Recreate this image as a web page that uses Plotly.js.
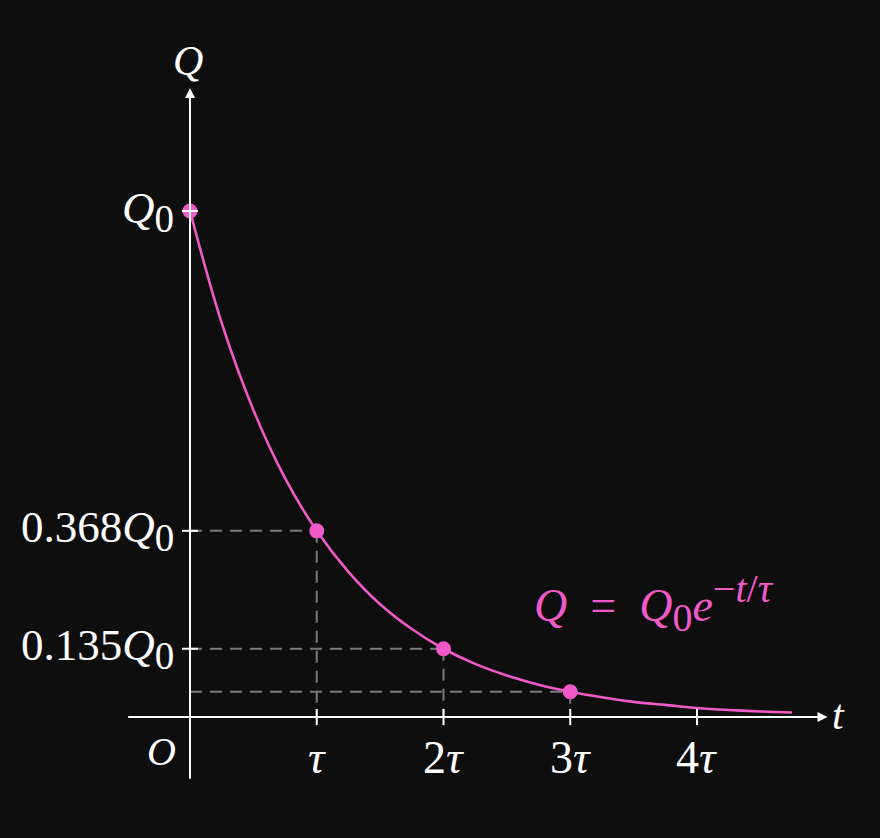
<!DOCTYPE html>
<html>
<head>
<meta charset="utf-8">
<script src="https://cdn.plot.ly/plotly-3.0.1.min.js"></script>
<style>html,body{margin:0;padding:0;background:#0e0e0e;}</style>
</head>
<body>
<div id="chart" style="width:880px;height:838px;"></div>
<script>
// ---- data (t in units of tau, Q in units of Q0) ----
const curveT = [0, 0.25, 0.5, 0.75, 1, 1.25, 1.5, 1.75, 2, 2.25, 2.5, 2.75, 3, 3.25, 3.5, 3.75, 4, 4.25, 4.5, 4.75];
const curveQ = [1, 0.779, 0.607, 0.472, 0.368, 0.287, 0.223, 0.174, 0.135, 0.105, 0.082, 0.064, 0.050, 0.039, 0.030, 0.024, 0.018, 0.014, 0.011, 0.009];
const markT = [0, 1, 2, 3];
const markQ = [1, 0.368, 0.135, 0.050];
const xTickVals = [1, 2, 3, 4];
const xTickText = ['<i>τ</i>', '2<i>τ</i>', '3<i>τ</i>', '4<i>τ</i>'];
const yTickVals = [1, 0.368, 0.135];
const yTickText = ['<i>Q</i><sub><span style="font-size:39px">0</span></sub>',
                   '0.368<i>Q</i><sub><span style="font-size:39px">0</span></sub>',
                   '0.135<i>Q</i><sub><span style="font-size:39px">0</span></sub>'];
const eqText = '<i>Q</i>\u2002=\u2002<i>Q</i><sub><span style="font-size:40px">0</span></sub><i>e</i><sup><span style="font-size:40px">−<i>t</i>/<i>τ</i></span></sup>';
const guideT = [1, 2, 3];
const guideQ = [0.368, 0.135, 0.050];

const pink = '#f05ac8';
const white = '#ffffff';
const grey = '#7a7a7a';
const fontFam = 'Liberation Serif';

const traces = [
  {x: curveT, y: curveQ, mode: 'lines', line: {color: pink, width: 2.6, shape: 'spline'}, hoverinfo: 'skip'},
  {x: markT, y: markQ, mode: 'markers', marker: {color: pink, size: 15}, hoverinfo: 'skip'}
];

const shapes = [];
// dashed guides
guideT.forEach((t, i) => {
  shapes.push({type: 'line', xref: 'x', yref: 'y', x0: 0, x1: t, y0: guideQ[i], y1: guideQ[i],
    line: {color: grey, width: 2, dash: '12px,8px'}, layer: 'below'});
  shapes.push({type: 'line', xref: 'x', yref: 'y', x0: t, x1: t, y0: guideQ[i], y1: 0,
    line: {color: grey, width: 2, dash: '12px,8px'}, layer: 'below'});
});
// tick marks
xTickVals.forEach(t => shapes.push({type: 'line', xref: 'x', yref: 'y', x0: t, x1: t, y0: -0.016, y1: 0.016,
  line: {color: white, width: 2}, layer: 'above'}));
yTickVals.forEach(q => shapes.push({type: 'line', xref: 'x', yref: 'y', x0: -0.063, x1: 0.063, y0: q, y1: q,
  line: {color: white, width: 2}, layer: 'above'}));

const annotations = [
  // axes with arrows
  {x: 5.03, y: 0, ax: -0.5, ay: 0, axref: 'x', ayref: 'y', xref: 'x', yref: 'y', text: '',
   showarrow: true, arrowhead: 2, arrowsize: 1, arrowwidth: 2, arrowcolor: white},
  {x: 0, y: 1.243, ax: 0, ay: -0.125, axref: 'x', ayref: 'y', xref: 'x', yref: 'y', text: '',
   showarrow: true, arrowhead: 2, arrowsize: 1, arrowwidth: 2, arrowcolor: white},
  // axis labels
  {x: 0, y: 1.243, xref: 'x', yref: 'y', text: '<i>Q</i>', showarrow: false, yanchor: 'bottom', xshift: -2, yshift: 2,
   font: {family: fontFam, size: 42, color: white}},
  {x: 5.03, y: 0, xref: 'x', yref: 'y', text: '<i>t</i>', showarrow: false, xanchor: 'left', xshift: 2, yshift: 2,
   font: {family: fontFam, size: 42, color: white}},
  {x: 0, y: 0, xref: 'x', yref: 'y', text: '<i>O</i>', showarrow: false, xanchor: 'right', yanchor: 'top', xshift: -12, yshift: -10,
   font: {family: fontFam, size: 40, color: white}},
  // equation
  {x: 2.70, y: 0.225, xref: 'x', yref: 'y', text: eqText,
   showarrow: false, xanchor: 'left', yanchor: 'middle', font: {family: fontFam, size: 46, color: pink}}
];
xTickVals.forEach((t, i) => annotations.push({x: t, y: 0, xref: 'x', yref: 'y', text: xTickText[i], showarrow: false,
  yanchor: 'top', yshift: -13, font: {family: fontFam, size: 46, color: white}}));
yTickVals.forEach((q, i) => annotations.push({x: 0, y: q, xref: 'x', yref: 'y', text: yTickText[i], showarrow: false,
  xanchor: 'right', xshift: -14, yshift: 0, font: {family: fontFam, size: 45, color: white}}));

const layout = {
  width: 880, height: 838,
  margin: {l: 0, r: 0, t: 0, b: 0},
  paper_bgcolor: '#0e0e0e', plot_bgcolor: '#0e0e0e',
  showlegend: false,
  font: {family: fontFam},
  xaxis: {range: [-1.499, 5.444], visible: false, fixedrange: true},
  yaxis: {range: [-0.239, 1.417], visible: false, fixedrange: true},
  shapes: shapes,
  annotations: annotations
};

Plotly.newPlot('chart', traces, layout, {displayModeBar: false, staticPlot: true});
</script>
</body>
</html>
